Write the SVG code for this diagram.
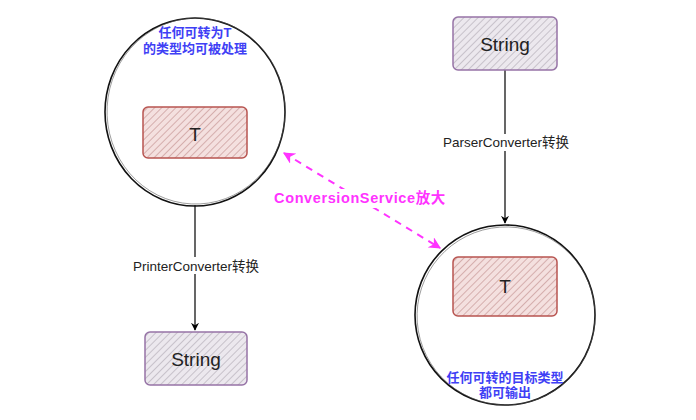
<svg xmlns="http://www.w3.org/2000/svg" width="696" height="420" viewBox="0 0 696 420">
<defs>
<pattern id="hatchRed" patternUnits="userSpaceOnUse" width="5" height="5" patternTransform="rotate(45)">
<rect width="5" height="5" fill="#f4e0df"/>
<line x1="0" y1="0" x2="0" y2="5" stroke="#c08d8b" stroke-width="1.2"/>
</pattern>
<pattern id="hatchPurple" patternUnits="userSpaceOnUse" width="5" height="5" patternTransform="rotate(45)">
<rect width="5" height="5" fill="#ece8ee"/>
<line x1="0" y1="0" x2="0" y2="5" stroke="#aea7b2" stroke-width="1.2"/>
</pattern>
<marker id="arrBlack" viewBox="0 0 10 10" refX="9" refY="5" markerWidth="8" markerHeight="8" orient="auto" markerUnits="userSpaceOnUse">
<path d="M0,0 L10,5 L0,10 L3,5 Z" fill="#000"/>
</marker>
<marker id="arrPink" viewBox="0 0 10 10" refX="9" refY="5" markerWidth="12" markerHeight="12" orient="auto-start-reverse" markerUnits="userSpaceOnUse">
<path d="M0,0 L10,5 L0,10 L3,5 Z" fill="#ff33ff"/>
</marker>
</defs>
<style>
.circle{fill:none;stroke:#111;stroke-width:1.6}
.circle2{fill:none;stroke:#555;stroke-width:0.8;opacity:0.7}
.redbox{fill:url(#hatchRed);stroke:#b85450;stroke-width:1.5}
.purplebox{fill:url(#hatchPurple);stroke:#9673a6;stroke-width:1.5}
.big{font-family:"Liberation Sans",Arial,sans-serif;font-size:19px;fill:#222;text-anchor:middle;dominant-baseline:central}
.blue{font-family:"Liberation Sans","Noto Sans CJK SC",sans-serif;font-size:13px;font-weight:bold;fill:#3f3ff5;text-anchor:middle;dominant-baseline:central}
.elabel{font-family:"Liberation Sans","Noto Sans CJK SC",sans-serif;font-size:13.5px;fill:#222;text-anchor:middle;dominant-baseline:central}
.pink{font-family:"Liberation Sans","Noto Sans CJK SC",sans-serif;font-size:14.5px;font-weight:bold;letter-spacing:0.6px;fill:#ff33ff;text-anchor:middle;dominant-baseline:central}
.edge{stroke:#000;stroke-width:1.2;fill:none}
</style>

<g id="connectors">
<line class="edge" x1="195" y1="205" x2="195" y2="330" marker-end="url(#arrBlack)"/>
<rect x="130" y="257" width="132" height="17" fill="#fff"/>
<text class="elabel" x="196" y="266">PrinterConverter转换</text>
<line class="edge" x1="505" y1="70" x2="505" y2="223" marker-end="url(#arrBlack)"/>
<rect x="442" y="134" width="128" height="17" fill="#fff"/>
<text class="elabel" x="506" y="142">ParserConverter转换</text>
<line x1="284" y1="153" x2="440" y2="248" stroke="#ff33ff" stroke-width="2" stroke-dasharray="7,6" marker-start="url(#arrPink)" marker-end="url(#arrPink)"/>
<rect x="270" y="189" width="180" height="19" fill="#fff"/>
<text class="pink" x="360" y="198">ConversionService放大</text>
</g>

<g id="leftCircle">
<ellipse class="circle" cx="195" cy="112" rx="90" ry="94"/>
<ellipse class="circle2" cx="196" cy="111" rx="89" ry="93" transform="rotate(3 195 112)"/>
<text class="blue" x="195" y="32">任何可转为T</text>
<text class="blue" x="195" y="48">的类型均可被处理</text>
</g>

<g id="leftT">
<rect class="redbox" x="143" y="107" width="104" height="51" rx="5"/>
<text class="big" x="195" y="134">T</text>
</g>

<g id="leftString">
<rect class="purplebox" x="145" y="332" width="102" height="53" rx="5"/>
<text class="big" x="196" y="359">String</text>
</g>

<g id="rightString">
<rect class="purplebox" x="453" y="17" width="104" height="53" rx="5"/>
<text class="big" x="505" y="44">String</text>
</g>

<g id="rightCircle">
<ellipse class="circle" cx="505" cy="315" rx="90" ry="90"/>
<ellipse class="circle2" cx="506" cy="316" rx="89" ry="89" transform="rotate(-4 505 315)"/>
<text class="blue" x="505" y="377">任何可转的目标类型</text>
<text class="blue" x="505" y="392">都可输出</text>
</g>

<g id="rightT">
<rect class="redbox" x="453" y="257" width="104" height="59" rx="5"/>
<text class="big" x="505" y="286">T</text>
</g>
</svg>
